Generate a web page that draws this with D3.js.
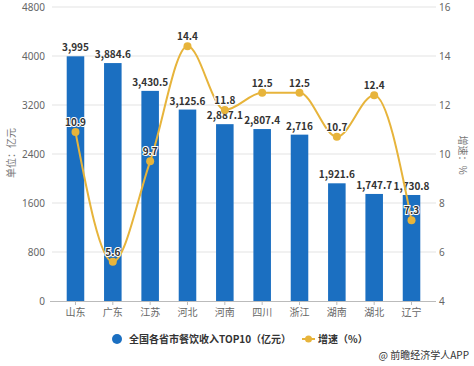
<!DOCTYPE html>
<html>
<head>
<meta charset="utf-8">
<script src="https://cdn.jsdelivr.net/npm/d3@7"></script>
<style>
  body { margin: 0; background: #fff; }
  text { font-family: "Noto Sans CJK SC", "Noto Sans", sans-serif; }
  .num { font-family: "Noto Sans", "DejaVu Sans", sans-serif; }
</style>
</head>
<body>
<div id="chart"></div>
<script>
// data
var provinces = ["山东", "广东", "江苏", "河北", "河南", "四川", "浙江", "湖南", "湖北", "辽宁"];
var revenue = [3995, 3884.6, 3430.5, 3125.6, 2887.1, 2807.4, 2716, 1921.6, 1747.7, 1730.8];
var revenueLabels = ["3,995", "3,884.6", "3,430.5", "3,125.6", "2,887.1", "2,807.4", "2,716", "1,921.6", "1,747.7", "1,730.8"];
var growth = [10.9, 5.6, 9.7, 14.4, 11.8, 12.5, 12.5, 10.7, 12.4, 7.3];
var leftTicks = [0, 800, 1600, 2400, 3200, 4000, 4800];
var rightTicks = [4, 6, 8, 10, 12, 14, 16];

var W = 474, H = 366;
var barColor = "#1b6fc1", lineColor = "#e7b43b";

var svg = d3.select("#chart").append("svg")
    .attr("width", W)
    .attr("height", H);

var x = d3.scaleBand()
    .domain(provinces)
    .range([57, 430])
    .paddingInner(0.53)
    .paddingOuter(0.26);
var y = d3.scaleLinear().domain([0, 4800]).range([301, 7]);
var y2 = d3.scaleLinear().domain([4, 16]).range([301, 7]);

// gridlines
svg.append("g")
    .selectAll("line")
    .data(leftTicks.slice(1))
    .join("line")
    .attr("x1", 52).attr("x2", 436)
    .attr("y1", function(d) { return y(d); })
    .attr("y2", function(d) { return y(d); })
    .attr("stroke", "#e3e3e3")
    .attr("stroke-width", 1);

// left axis labels
svg.append("g")
    .selectAll("text")
    .data(leftTicks)
    .join("text")
    .attr("class", "num")
    .attr("x", 45)
    .attr("y", function(d) { return y(d) + 3.5; })
    .attr("text-anchor", "end")
    .attr("font-size", 10)
    .attr("fill", "#666")
    .text(function(d) { return d; });

// right axis labels
svg.append("g")
    .selectAll("text")
    .data(rightTicks)
    .join("text")
    .attr("class", "num")
    .attr("x", 439)
    .attr("y", function(d) { return y2(d) + 3.5; })
    .attr("font-size", 10)
    .attr("fill", "#666")
    .text(function(d) { return d; });

// bottom axis
var xAxis = d3.axisBottom(x).tickSize(4).tickPadding(4);
var gx = svg.append("g")
    .attr("transform", "translate(0,301)")
    .call(xAxis);
gx.select(".domain").attr("stroke", "#bbb").attr("d", "M50,0.5H436");
gx.selectAll(".tick line").attr("stroke", "#bbb");
gx.selectAll(".tick text")
    .attr("font-size", 10)
    .attr("fill", "#666")
    .style("font-family", "\"Noto Sans CJK SC\", sans-serif");

// axis titles
svg.append("text")
    .attr("transform", "translate(15,153) rotate(-90)")
    .attr("text-anchor", "middle")
    .attr("font-size", 10)
    .attr("fill", "#777")
    .text("单位：亿元");
svg.append("text")
    .attr("transform", "translate(459,155) rotate(90)")
    .attr("text-anchor", "middle")
    .attr("font-size", 10)
    .attr("fill", "#777")
    .text("增速：%");

// bars
svg.append("g")
    .selectAll("rect")
    .data(provinces)
    .join("rect")
    .attr("x", function(d) { return x(d); })
    .attr("width", x.bandwidth())
    .attr("y", function(d, i) { return y(revenue[i]); })
    .attr("height", function(d, i) { return y(0) - y(revenue[i]); })
    .attr("fill", barColor);

// bar labels
svg.append("g")
    .selectAll("text")
    .data(provinces)
    .join("text")
    .attr("x", function(d) { return x(d) + x.bandwidth() / 2; })
    .attr("y", function(d, i) { return y(revenue[i]) - 5; })
    .attr("text-anchor", "middle")
    .attr("font-size", 10)
    .attr("font-weight", "bold")
    .attr("fill", "#333")
    .text(function(d, i) { return revenueLabels[i]; });

// growth line
var line = d3.line()
    .x(function(d, i) { return x(provinces[i]) + x.bandwidth() / 2; })
    .y(function(d) { return y2(d); })
    .curve(d3.curveMonotoneX);

svg.append("path")
    .datum(growth)
    .attr("d", line)
    .attr("fill", "none")
    .attr("stroke", lineColor)
    .attr("stroke-width", 2);

svg.append("g")
    .selectAll("circle")
    .data(growth)
    .join("circle")
    .attr("cx", function(d, i) { return x(provinces[i]) + x.bandwidth() / 2; })
    .attr("cy", function(d) { return y2(d); })
    .attr("r", 4)
    .attr("fill", lineColor);

svg.append("g")
    .selectAll("text")
    .data(growth)
    .join("text")
    .attr("x", function(d, i) { return x(provinces[i]) + x.bandwidth() / 2; })
    .attr("y", function(d) { return y2(d) - 6; })
    .attr("text-anchor", "middle")
    .attr("font-size", 10)
    .attr("font-weight", "bold")
    .attr("fill", "#333")
    .attr("stroke", "#fff")
    .attr("stroke-width", 2)
    .attr("paint-order", "stroke")
    .text(function(d) { return d; });

// legend
var legend = svg.append("g");
legend.append("circle")
    .attr("cx", 117).attr("cy", 339).attr("r", 5)
    .attr("fill", barColor);
legend.append("text")
    .attr("x", 129).attr("y", 343)
    .attr("font-size", 10)
    .attr("font-weight", "bold")
    .attr("fill", "#333")
    .text("全国各省市餐饮收入TOP10（亿元）");
legend.append("line")
    .attr("x1", 302).attr("x2", 315)
    .attr("y1", 339).attr("y2", 339)
    .attr("stroke", lineColor).attr("stroke-width", 2);
legend.append("circle")
    .attr("cx", 308.5).attr("cy", 339).attr("r", 3.5)
    .attr("fill", lineColor);
legend.append("text")
    .attr("x", 318).attr("y", 343)
    .attr("font-size", 10)
    .attr("font-weight", "bold")
    .attr("fill", "#333")
    .text("增速（%）");

// source
svg.append("text")
    .attr("x", 469).attr("y", 359)
    .attr("text-anchor", "end")
    .attr("font-size", 10)
    .attr("fill", "#333")
    .text("@ 前瞻经济学人APP");
</script>
</body>
</html>
